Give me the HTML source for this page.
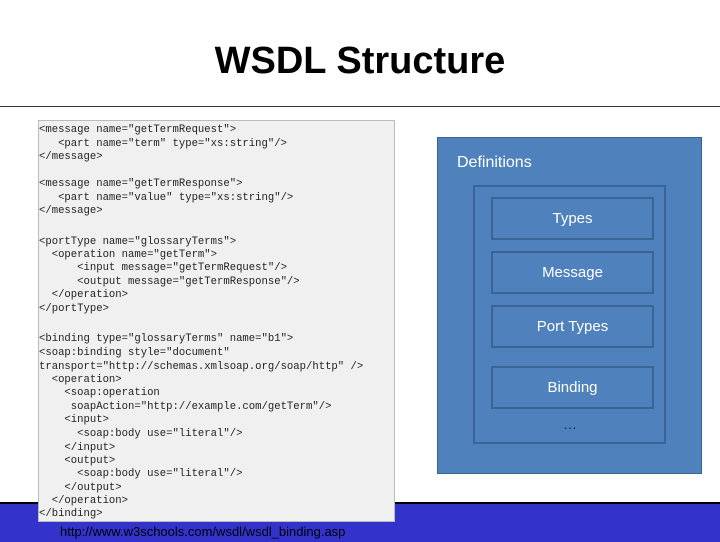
<html><head><style>
body{margin:0;width:720px;height:540px;position:relative;background:#fff;overflow:hidden;font-family:"Liberation Sans",sans-serif}
.a{position:absolute}
.code{position:absolute;left:38px;top:120px;width:357px;height:402px;background:#f0f0f0;border:1px solid #bbb;box-sizing:border-box;z-index:2}
.code div{position:absolute;left:0;font-family:"Liberation Mono",monospace;font-size:10.6px;color:#222;white-space:pre;line-height:12px}
.b{position:absolute;left:491px;width:163px;height:43px;border:2px solid #3a6494;box-sizing:border-box;color:#fff;font-size:15px;text-align:center;line-height:39px}
</style></head><body>
<div class="a" style="left:0;right:0;top:40px;text-align:center;font-size:38px;font-weight:bold;color:#000">WSDL Structure</div>
<div class="a" style="left:0;top:106px;width:720px;height:1px;background:#333"></div>
<div class="a" style="left:0;top:502px;width:720px;height:38px;background:#3333cc;border-top:2px solid #000"></div>
<div class="a" style="left:60px;top:524px;font-size:13px;color:#000;z-index:3">http://www.w3schools.com/wsdl/wsdl_binding.asp</div>
<div class="a" style="left:437px;top:137px;width:265px;height:337px;background:#4f81bd;border:1px solid #3a6494;box-sizing:border-box"></div>
<div class="a" style="left:457px;top:154px;color:#fff;font-size:16px">Definitions</div>
<div class="a" style="left:473px;top:185px;width:193px;height:259px;border:2px solid #3a6494;box-sizing:border-box"></div>
<div class="b" style="top:197px">Types</div>
<div class="b" style="top:251px">Message</div>
<div class="b" style="top:305px">Port Types</div>
<div class="b" style="top:366px">Binding</div>
<div class="a" style="left:563px;top:416px;color:#223;font-size:14px">…</div>
<div class="code">
<div style="top:3px">&lt;message name="getTermRequest"&gt;</div>
<div style="top:17px">   &lt;part name="term" type="xs:string"/&gt;</div>
<div style="top:30px">&lt;/message&gt;</div>
<div style="top:57px">&lt;message name="getTermResponse"&gt;</div>
<div style="top:71px">   &lt;part name="value" type="xs:string"/&gt;</div>
<div style="top:84px">&lt;/message&gt;</div>
<div style="top:115px">&lt;portType name="glossaryTerms"&gt;</div>
<div style="top:128px">  &lt;operation name="getTerm"&gt;</div>
<div style="top:141px">      &lt;input message="getTermRequest"/&gt;</div>
<div style="top:155px">      &lt;output message="getTermResponse"/&gt;</div>
<div style="top:168px">  &lt;/operation&gt;</div>
<div style="top:182px">&lt;/portType&gt;</div>
<div style="top:212px">&lt;binding type="glossaryTerms" name="b1"&gt;</div>
<div style="top:226px">&lt;soap:binding style="document"</div>
<div style="top:240px">transport="http://schemas.xmlsoap.org/soap/http" /&gt;</div>
<div style="top:253px">  &lt;operation&gt;</div>
<div style="top:266px">    &lt;soap:operation</div>
<div style="top:280px">     soapAction="http://example.com/getTerm"/&gt;</div>
<div style="top:293px">    &lt;input&gt;</div>
<div style="top:307px">      &lt;soap:body use="literal"/&gt;</div>
<div style="top:321px">    &lt;/input&gt;</div>
<div style="top:334px">    &lt;output&gt;</div>
<div style="top:347px">      &lt;soap:body use="literal"/&gt;</div>
<div style="top:361px">    &lt;/output&gt;</div>
<div style="top:374px">  &lt;/operation&gt;</div>
<div style="top:387px">&lt;/binding&gt;</div>
</div>
</body></html>
